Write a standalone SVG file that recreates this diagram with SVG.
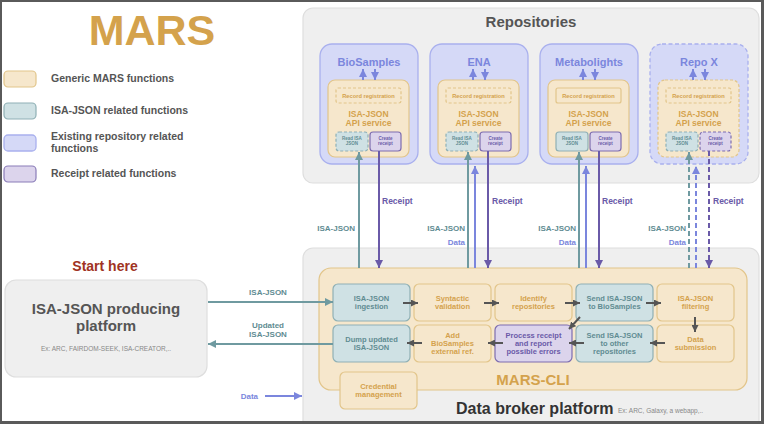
<svg xmlns="http://www.w3.org/2000/svg" width="764" height="424" viewBox="0 0 764 424">
<defs>
<style>
text{font-family:"Liberation Sans",Arial,sans-serif;font-weight:bold}
.panel{fill:#efefef;stroke:#dedede;stroke-width:1.2}
.tan{fill:#f6e7cc;stroke:#e2c58a;stroke-width:1.2}
.teal{fill:#cfe1e4;stroke:#8fb0b5;stroke-width:1.2}
.blue{fill:#d5d9f7;stroke:#a9b0ee;stroke-width:1.3}
.purp{fill:#dcd4ec;stroke:#7d6db0;stroke-width:1.2}
.dash{stroke-dasharray:3 2}
.tgold{fill:#d4a24c}
.tteal{fill:#5f8c92}
.tpurp{fill:#6a5aa8}
.tblue{fill:#7b86dd}
.tgray{fill:#555}
.c{text-anchor:middle}
.e{text-anchor:end}
.lteal{stroke:#6f9aa0;stroke-width:2;fill:none}
.lpurp{stroke:#6a5aa8;stroke-width:2;fill:none}
.lblue{stroke:#7b86dd;stroke-width:2;fill:none}
.ldark{stroke:#555;stroke-width:2;fill:none}
.ld{stroke-dasharray:5 3}
</style>
<marker id="mt" viewBox="0 0 10 10" refX="10" refY="5" markerWidth="8" markerHeight="8" markerUnits="userSpaceOnUse" orient="auto"><path d="M0 0L10 5L0 10Z" fill="#6f9aa0"/></marker>
<marker id="mp" viewBox="0 0 10 10" refX="10" refY="5" markerWidth="8" markerHeight="8" markerUnits="userSpaceOnUse" orient="auto"><path d="M0 0L10 5L0 10Z" fill="#6a5aa8"/></marker>
<marker id="mb" viewBox="0 0 10 10" refX="10" refY="5" markerWidth="8" markerHeight="8" markerUnits="userSpaceOnUse" orient="auto"><path d="M0 0L10 5L0 10Z" fill="#7b86dd"/></marker>
<marker id="md" viewBox="0 0 10 10" refX="10" refY="5" markerWidth="7" markerHeight="7" markerUnits="userSpaceOnUse" orient="auto"><path d="M0 0L10 5L0 10Z" fill="#555"/></marker>
</defs>
<rect x="0" y="0" width="764" height="424" fill="#fff"/>

<g id="legend">
<text x="152" y="45" class="c tgold" font-size="43">MARS</text>
<rect x="4" y="71" width="32" height="16" rx="4" class="tan"/>
<text x="51" y="82" class="tgray" font-size="10.5">Generic MARS functions</text>
<rect x="4" y="103" width="32" height="16" rx="4" class="teal"/>
<text x="51" y="114" class="tgray" font-size="10.5">ISA-JSON related functions</text>
<rect x="4" y="135" width="32" height="16" rx="4" class="blue"/>
<text x="51" y="140" class="tgray" font-size="10.5">Existing repository related</text>
<text x="51" y="152" class="tgray" font-size="10.5">functions</text>
<rect x="4" y="166" width="32" height="16" rx="4" class="purp" style="stroke:#8a7cb8"/>
<text x="51" y="177" class="tgray" font-size="10.5">Receipt related functions</text>
</g>

<g id="producer">
<text x="105" y="271" class="c" font-size="14" fill="#a03323">Start here</text>
<rect x="5" y="280" width="202" height="97" rx="11" class="panel"/>
<text x="106" y="314" class="c tgray" font-size="15">ISA-JSON producing</text>
<text x="106" y="331" class="c tgray" font-size="15">platform</text>
<text x="106" y="351" class="c" font-size="6.5" fill="#888" font-weight="normal" style="font-weight:normal">Ex: ARC, FAIRDOM-SEEK, ISA-CREATOR,..</text>
</g>

<g id="repositories">
<rect x="303" y="8" width="456" height="175" rx="10" class="panel"/>
<text x="531" y="27" class="c tgray" font-size="15">Repositories</text>
</g>

<g id="broker">
<rect x="303" y="248" width="456" height="185" rx="10" class="panel"/>
<text x="456" y="414" class="tgray" font-size="16" style="fill:#333">Data broker platform</text>
<text x="618" y="413" font-size="6.5" fill="#888" style="font-weight:normal">Ex: ARC, Galaxy, a webapp,..</text>
</g>

<g id="repo-biosamples">
<rect x="320" y="44" width="98" height="120" rx="12" class="blue"/>
<text x="369" y="66" class="c tblue" font-size="11">BioSamples</text>
<rect x="328" y="80" width="81" height="77" rx="7" class="tan"/>
<rect x="336" y="88" width="65" height="15" rx="2" class="tan dash"/>
<text x="368.5" y="98" class="c tgold" font-size="5.7">Record registration</text>
<text x="368.5" y="117" class="c tgold" font-size="8.5">ISA-JSON</text>
<text x="368.5" y="126" class="c tgold" font-size="8.5">API service</text>
<rect x="336" y="132" width="32" height="19" rx="3" class="teal dash"/>
<text x="352" y="139.5" class="c tteal" font-size="4.5">Read ISA</text>
<text x="352" y="145" class="c tteal" font-size="4.5">JSON</text>
<rect x="370" y="132" width="31" height="19" rx="3" class="purp"/>
<text x="385.5" y="139.5" class="c tpurp" font-size="4.5">Create</text>
<text x="385.5" y="145" class="c tpurp" font-size="4.5">receipt</text>
<line x1="363" y1="80" x2="363" y2="69" class="lblue" marker-end="url(#mb)"/>
<line x1="375" y1="69" x2="375" y2="80" class="lblue" marker-end="url(#mb)"/>
</g>

<g id="repo-ena">
<rect x="430" y="44" width="98" height="120" rx="12" class="blue"/>
<text x="479" y="66" class="c tblue" font-size="11">ENA</text>
<rect x="438" y="80" width="81" height="77" rx="7" class="tan"/>
<rect x="446" y="88" width="65" height="15" rx="2" class="tan dash"/>
<text x="478.5" y="98" class="c tgold" font-size="5.7">Record registration</text>
<text x="478.5" y="117" class="c tgold" font-size="8.5">ISA-JSON</text>
<text x="478.5" y="126" class="c tgold" font-size="8.5">API service</text>
<rect x="446" y="132" width="32" height="19" rx="3" class="teal dash"/>
<text x="462" y="139.5" class="c tteal" font-size="4.5">Read ISA</text>
<text x="462" y="145" class="c tteal" font-size="4.5">JSON</text>
<rect x="480" y="132" width="31" height="19" rx="3" class="purp"/>
<text x="495.5" y="139.5" class="c tpurp" font-size="4.5">Create</text>
<text x="495.5" y="145" class="c tpurp" font-size="4.5">receipt</text>
<line x1="473" y1="80" x2="473" y2="69" class="lblue" marker-end="url(#mb)"/>
<line x1="485" y1="69" x2="485" y2="80" class="lblue" marker-end="url(#mb)"/>
</g>

<g id="repo-metabolights">
<rect x="540" y="44" width="98" height="120" rx="12" class="blue"/>
<text x="589" y="66" class="c tblue" font-size="11">Metabolights</text>
<rect x="548" y="80" width="81" height="77" rx="7" class="tan"/>
<rect x="556" y="88" width="65" height="15" rx="2" class="tan"/>
<text x="588.5" y="98" class="c tgold" font-size="5.7">Record registration</text>
<text x="588.5" y="117" class="c tgold" font-size="8.5">ISA-JSON</text>
<text x="588.5" y="126" class="c tgold" font-size="8.5">API service</text>
<rect x="556" y="132" width="32" height="19" rx="3" class="teal"/>
<text x="572" y="139.5" class="c tteal" font-size="4.5">Read ISA</text>
<text x="572" y="145" class="c tteal" font-size="4.5">JSON</text>
<rect x="590" y="132" width="31" height="19" rx="3" class="purp"/>
<text x="605.5" y="139.5" class="c tpurp" font-size="4.5">Create</text>
<text x="605.5" y="145" class="c tpurp" font-size="4.5">receipt</text>
<line x1="583" y1="80" x2="583" y2="69" class="lblue" marker-end="url(#mb)"/>
<line x1="595" y1="69" x2="595" y2="80" class="lblue" marker-end="url(#mb)"/>
</g>

<g id="repo-x">
<rect x="650" y="44" width="98" height="120" rx="12" class="blue" style="stroke-dasharray:4 2.5"/>
<text x="699" y="66" class="c tblue" font-size="11">Repo X</text>
<rect x="658" y="80" width="81" height="77" rx="7" class="tan dash"/>
<rect x="666" y="88" width="65" height="15" rx="2" class="tan dash"/>
<text x="698.5" y="98" class="c tgold" font-size="5.7">Record registration</text>
<text x="698.5" y="117" class="c tgold" font-size="8.5">ISA-JSON</text>
<text x="698.5" y="126" class="c tgold" font-size="8.5">API service</text>
<rect x="666" y="132" width="32" height="19" rx="3" class="teal dash"/>
<text x="682" y="139.5" class="c tteal" font-size="4.5">Read ISA</text>
<text x="682" y="145" class="c tteal" font-size="4.5">JSON</text>
<rect x="700" y="132" width="31" height="19" rx="3" class="purp dash"/>
<text x="715.5" y="139.5" class="c tpurp" font-size="4.5">Create</text>
<text x="715.5" y="145" class="c tpurp" font-size="4.5">receipt</text>
<line x1="693" y1="80" x2="693" y2="69" class="lblue" marker-end="url(#mb)"/>
<line x1="705" y1="69" x2="705" y2="80" class="lblue" marker-end="url(#mb)"/>
</g>

<g id="mars-cli">
<rect x="319" y="268" width="428" height="122" rx="12" class="tan"/>
<text x="533" y="385" class="c tgold" font-size="15">MARS-CLI</text>
</g>

<g id="n-ingestion">
<rect x="333" y="284" width="77" height="37" rx="5" class="teal"/>
<text x="371.5" y="301" class="c tteal" font-size="7.5">ISA-JSON</text>
<text x="371.5" y="309" class="c tteal" font-size="7.5">ingestion</text>
</g>
<g id="n-syntactic">
<rect x="414" y="284" width="77" height="37" rx="5" class="tan"/>
<text x="452.5" y="301" class="c tgold" font-size="7.5">Syntactic</text>
<text x="452.5" y="309" class="c tgold" font-size="7.5">validation</text>
</g>
<g id="n-identify">
<rect x="495" y="284" width="77" height="37" rx="5" class="tan"/>
<text x="533.5" y="301" class="c tgold" font-size="7.5">Identify</text>
<text x="533.5" y="309" class="c tgold" font-size="7.5">repositories</text>
</g>
<g id="n-send-bio">
<rect x="576" y="284" width="77" height="37" rx="5" class="teal"/>
<text x="614.5" y="301" class="c tteal" font-size="7.5">Send ISA-JSON</text>
<text x="614.5" y="309" class="c tteal" font-size="7.5">to BioSamples</text>
</g>
<g id="n-filtering">
<rect x="657" y="284" width="77" height="37" rx="5" class="tan"/>
<text x="695.5" y="301" class="c tgold" font-size="7.5">ISA-JSON</text>
<text x="695.5" y="309" class="c tgold" font-size="7.5">filtering</text>
</g>
<g id="n-dump">
<rect x="333" y="325" width="77" height="37" rx="5" class="teal"/>
<text x="371.5" y="342" class="c tteal" font-size="7.5">Dump updated</text>
<text x="371.5" y="350" class="c tteal" font-size="7.5">ISA-JSON</text>
</g>
<g id="n-addref">
<rect x="414" y="325" width="77" height="37" rx="5" class="tan"/>
<text x="452.5" y="338" class="c tgold" font-size="7.5">Add</text>
<text x="452.5" y="346" class="c tgold" font-size="7.5">BioSamples</text>
<text x="452.5" y="354" class="c tgold" font-size="7.5">external ref.</text>
</g>
<g id="n-receipt">
<rect x="495" y="325" width="77" height="37" rx="5" class="purp"/>
<text x="533.5" y="338" class="c tpurp" font-size="7.5">Process receipt</text>
<text x="533.5" y="346" class="c tpurp" font-size="7.5">and report</text>
<text x="533.5" y="354" class="c tpurp" font-size="7.5">possible errors</text>
</g>
<g id="n-send-other">
<rect x="576" y="325" width="77" height="37" rx="5" class="teal"/>
<text x="614.5" y="338" class="c tteal" font-size="7.5">Send ISA-JSON</text>
<text x="614.5" y="346" class="c tteal" font-size="7.5">to other</text>
<text x="614.5" y="354" class="c tteal" font-size="7.5">repositories</text>
</g>
<g id="n-submission">
<rect x="657" y="325" width="77" height="37" rx="5" class="tan"/>
<text x="695.5" y="342" class="c tgold" font-size="7.5">Data</text>
<text x="695.5" y="350" class="c tgold" font-size="7.5">submission</text>
</g>
<g id="n-credential">
<rect x="340" y="372" width="77" height="37" rx="5" class="tan"/>
<text x="378.5" y="389" class="c tgold" font-size="7.5">Credential</text>
<text x="378.5" y="397" class="c tgold" font-size="7.5">management</text>
</g>

<g id="connectors">
<line x1="208" y1="302" x2="333" y2="302" class="lteal" marker-end="url(#mt)"/>
<text x="268" y="295" class="c tteal" font-size="8">ISA-JSON</text>
<line x1="333" y1="344" x2="208" y2="344" class="lteal" marker-end="url(#mt)"/>
<text x="268" y="328" class="c tteal" font-size="8">Updated</text>
<text x="268" y="337" class="c tteal" font-size="8">ISA-JSON</text>
<line x1="265" y1="396" x2="302" y2="396" class="lblue" marker-end="url(#mb)"/>
<text x="258" y="399" class="e tblue" font-size="8">Data</text>

<line x1="359" y1="268" x2="359" y2="152" class="lteal" marker-end="url(#mt)"/>
<line x1="379" y1="151" x2="379" y2="268" class="lpurp" marker-end="url(#mp)"/>
<text x="355" y="231" class="e tteal" font-size="8">ISA-JSON</text>
<text x="382" y="204" class="tpurp" font-size="8.5">Receipt</text>

<line x1="468" y1="268" x2="468" y2="152" class="lteal" marker-end="url(#mt)"/>
<line x1="475" y1="268" x2="475" y2="166" class="lblue" marker-end="url(#mb)"/>
<line x1="488" y1="151" x2="488" y2="268" class="lpurp" marker-end="url(#mp)"/>
<text x="465" y="231" class="e tteal" font-size="8">ISA-JSON</text>
<text x="465" y="245" class="e tblue" font-size="8">Data</text>
<text x="492" y="204" class="tpurp" font-size="8.5">Receipt</text>

<line x1="579" y1="268" x2="579" y2="152" class="lteal" marker-end="url(#mt)"/>
<line x1="586" y1="268" x2="586" y2="166" class="lblue" marker-end="url(#mb)"/>
<line x1="599" y1="151" x2="599" y2="268" class="lpurp" marker-end="url(#mp)"/>
<text x="576" y="231" class="e tteal" font-size="8">ISA-JSON</text>
<text x="576" y="245" class="e tblue" font-size="8">Data</text>
<text x="602" y="204" class="tpurp" font-size="8.5">Receipt</text>

<line x1="689" y1="268" x2="689" y2="152" class="lteal ld" marker-end="url(#mt)"/>
<line x1="696" y1="268" x2="696" y2="166" class="lblue ld" marker-end="url(#mb)"/>
<line x1="709" y1="151" x2="709" y2="268" class="lpurp ld" marker-end="url(#mp)"/>
<text x="686" y="231" class="e tteal" font-size="8">ISA-JSON</text>
<text x="686" y="245" class="e tblue" font-size="8">Data</text>
<text x="713" y="204" class="tpurp" font-size="8.5">Receipt</text>

<line x1="403" y1="303" x2="418" y2="303" class="ldark" marker-end="url(#md)"/>
<line x1="484" y1="303" x2="499" y2="303" class="ldark" marker-end="url(#md)"/>
<line x1="565" y1="303" x2="580" y2="303" class="ldark" marker-end="url(#md)"/>
<line x1="646" y1="303" x2="661" y2="303" class="ldark" marker-end="url(#md)"/>
<line x1="695" y1="317" x2="695" y2="332" class="ldark" marker-end="url(#md)"/>
<line x1="665" y1="343" x2="650" y2="343" class="ldark" marker-end="url(#md)"/>
<line x1="580" y1="317" x2="569" y2="329" class="ldark" marker-end="url(#md)"/>
<line x1="584" y1="343" x2="569" y2="343" class="ldark" marker-end="url(#md)"/>
<line x1="503" y1="343" x2="488" y2="343" class="ldark" marker-end="url(#md)"/>
<line x1="422" y1="343" x2="407" y2="343" class="ldark" marker-end="url(#md)"/>
</g>

<path d="M0 0H764V424H0Z M2 2V421H761V2Z" fill="#5a5a5a" fill-rule="evenodd"/>
</svg>
